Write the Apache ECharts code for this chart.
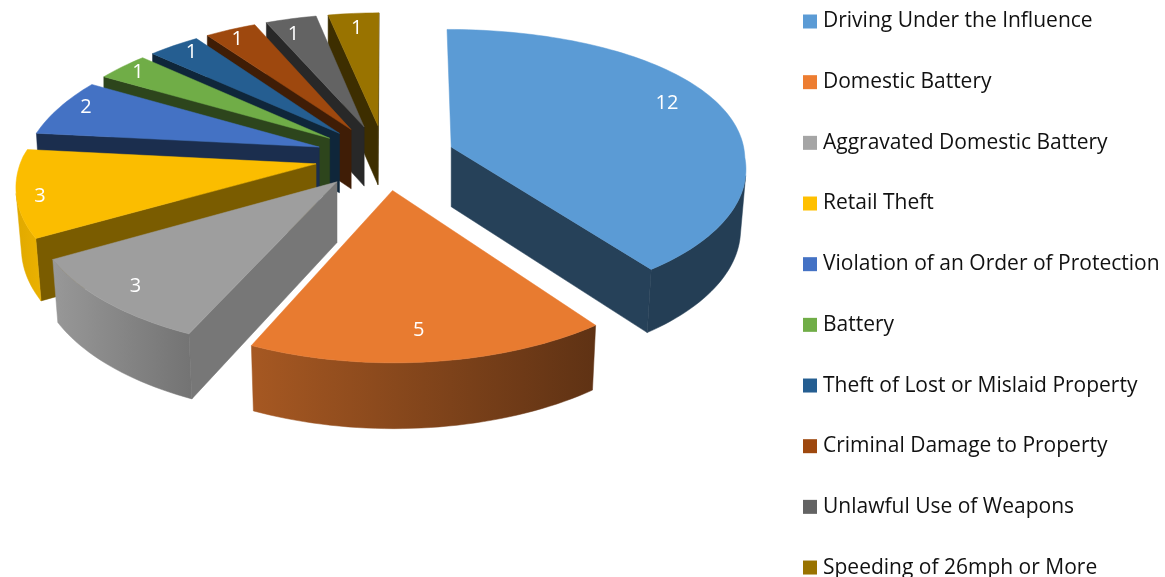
<!DOCTYPE html>
<html><head><meta charset="utf-8">
<style>html,body{margin:0;padding:0;background:#fff}#c{width:1165px;height:577px}</style>
<script src="https://cdn.jsdelivr.net/npm/echarts@6/dist/echarts.min.js"></script>
</head><body><div id="c"></div>
<script>
const categories = ['Driving Under the Influence','Domestic Battery','Aggravated Domestic Battery','Retail Theft','Violation of an Order of Protection','Battery','Theft of Lost or Mislaid Property','Criminal Damage to Property','Unlawful Use of Weapons','Speeding of 26mph or More'];
const counts = [12,5,3,3,2,1,1,1,1,1];
const colors = ['#5B9BD5','#ED7D31','#A5A5A5','#FFC000','#4472C4','#70AD47','#255E91','#9E480E','#636363','#997300'];
const topShade = [1,0.98,0.96,0.985,1,1,1,1,1,1];
const faceShade = [0.42,0.7,0.72,0.48,0.4,0.4,0.4,0.4,0.4,0.4];
const labelRadius = [245,246,260,272,268,270,266,266,250,250];
const labelTurn = [-6,1,0,-2,2,0,1,-1,-2,0];

const CX=385, CY=157, R=294, D=1760, K=0.465, EXPLODE=70, DEPTH=60;
const total = counts.reduce((a,b)=>a+b,0);
const starts = counts.map((_,i)=>counts.slice(0,i).reduce((a,b)=>a+b,0)/total*360);
const rad = a=>a*Math.PI/180;
function project(X,Y,down,isTip){
  const s=D/(D-Y);
  let sx = s>1 ? 1+(s-1)*0.8 : (X>0 ? 1-(1-s)*0.45 : s);
  const y=CY+Y*K*Math.pow(s,0.85);
  if(!down) return [CX+X*sx, y];
  return [CX+X*sx*(isTip?1:1-Math.min(1,Math.max(0,(s-0.9)/0.1))*0.015), y+DEPTH*Math.pow(s,0.4)];
}
const lerp=(a,b,t)=>a+(b-a)*t;
function wallShade(a){
  if(a<=144) return 0.40;
  if(a<=204) return lerp(0.40,0.7,(a-144)/60);
  if(a<=240) return lerp(0.72,0.92,(a-204)/36);
  return 0.88;
}
function shade(hex,f){
  const n=parseInt(hex.slice(1),16);
  return 'rgb('+[(n>>16)&255,(n>>8)&255,n&255].map(v=>Math.round(v*f)).join(',')+')';
}
function area(p){let s=0;for(let i=0;i<p.length;i++){const q=p[(i+1)%p.length];s+=p[i][0]*q[1]-q[0]*p[i][1];}return s/2;}

function sliceItem(i,value){
  const a0=starts[i], sweep=value/total*360, a1=a0+sweep, mid=a0+sweep/2;
  const tx=EXPLODE*Math.sin(rad(mid)), ty=-EXPLODE*Math.cos(rad(mid));
  const rim=a=>[tx+R*Math.sin(rad(a)), ty-R*Math.cos(rad(a))];
  const kids=[];
  const poly=(pts,fill)=>kids.push({type:'polygon',silent:true,shape:{points:pts},style:{fill:fill,stroke:fill,lineWidth:0.5}});
  const tipT=project(tx,ty,false), tipB=project(tx,ty,true,true);
  const face=(a,start)=>{
    if(start && tx>0) return;
    const e=rim(a), pts=[tipT,project(e[0],e[1],false),project(e[0],e[1],true),tipB];
    if((start?-1:1)*area(pts)>0) poly(pts,shade(colors[i],faceShade[i]));
  };
  face(a0,true); face(a1,false);
  const topPts=[tipT], wallTop=[], wallBot=[];
  const n=Math.max(2,Math.ceil(sweep/1.5));
  let first=null,last=null;
  for(let j=0;j<=n;j++){
    const a=a0+sweep*j/n, e=rim(a);
    const t=project(e[0],e[1],false);
    topPts.push(t);
    if(j<n){
      const b=a0+sweep*(j+1)/n, f=rim(b);
      const q=[t,project(f[0],f[1],false),project(f[0],f[1],true),project(e[0],e[1],true)];
      if(area(q)<0){
        if(first===null){first=a;wallTop.push(q[0]);wallBot.push(q[3]);}
        wallTop.push(q[1]);wallBot.push(q[2]);last=b;
      }
    }
  }
  if(first!==null){
    // the wall runs clockwise, so its later angle lies on the left of the picture
    poly(wallTop.concat(wallBot.reverse()),{type:'linear',x:0,y:0,x2:1,y2:0,colorStops:[
      {offset:0,color:shade(colors[i],wallShade(last))},
      {offset:1,color:shade(colors[i],wallShade(first))}]});
  }
  poly(topPts,shade(colors[i],topShade[i]));
  const la=mid+labelTurn[i], lp=[tx+labelRadius[i]*Math.sin(rad(la)), ty-labelRadius[i]*Math.cos(rad(la))];
  const lpos=project(lp[0],lp[1],false);
  kids.push({type:'text',silent:true,style:{text:String(value),x:lpos[0],y:lpos[1],fill:'#fff',font:'20px "Open Sans"',align:'center',verticalAlign:'middle'}});
  return {type:'group',children:kids};
}

const order=counts.map((_,i)=>i).sort((p,q)=>{
  const mp=starts[p]+counts[p]/total*180, mq=starts[q]+counts[q]/total*180;
  return (-Math.cos(rad(mp)))-(-Math.cos(rad(mq)));
});
const series=categories.map((name,i)=>({
  type:'custom',name:name,coordinateSystem:'none',silent:true,
  z:2+order.indexOf(i),
  itemStyle:{color:colors[i]},
  data:[[counts[i]]],
  renderItem:(params,api)=>sliceItem(i,api.value(0))
}));
const chart=echarts.init(document.getElementById('c'),null,{renderer:'canvas'});
chart.setOption({
  animation:false,
  backgroundColor:'#fff',
  legend:{show:true,orient:'vertical',left:803,top:11,padding:0,height:577,itemWidth:14,itemHeight:14,itemGap:39.67,icon:'rect',selectedMode:false,
    data:categories,textStyle:{fontFamily:'Open Sans',fontSize:21,color:'#111',lineHeight:20,padding:[0,0,0,1]}},
  series:series
});
</script></body></html>
